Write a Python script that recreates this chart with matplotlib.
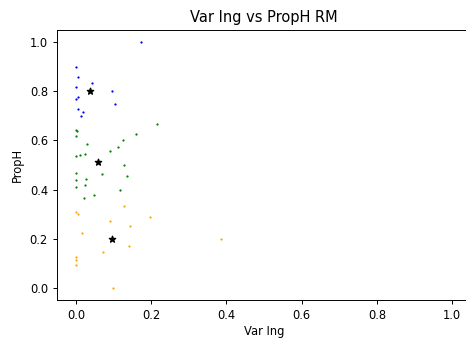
import matplotlib
matplotlib.use("Agg")
import matplotlib.pyplot as plt

blue_x = [0.172, 0.0, 0.005, 0.044, 0.0, 0.096, 0.005, 0.0, 0.103, 0.005, 0.020, 0.015]
blue_y = [1.0, 0.90, 0.857, 0.834, 0.818, 0.80, 0.778, 0.770, 0.750, 0.728, 0.716, 0.701]

green_x = [0.217, 0.0, 0.003, 0.160, 0.0, 0.126, 0.029, 0.112, 0.092, 0.025, 0.011, 0.0,
           0.128, 0.0, 0.070, 0.137, 0.027, 0.0, 0.024, 0.0, 0.117, 0.049, 0.023]
green_y = [0.667, 0.642, 0.637, 0.626, 0.618, 0.602, 0.584, 0.572, 0.557, 0.546, 0.540, 0.535,
           0.501, 0.468, 0.463, 0.456, 0.445, 0.438, 0.418, 0.410, 0.400, 0.376, 0.365]

orange_x = [0.127, 0.001, 0.005, 0.198, 0.091, 0.144, 0.017, 0.387, 0.140, 0.073, 0.0, 0.0, 0.0, 0.099]
orange_y = [0.335, 0.310, 0.302, 0.287, 0.273, 0.252, 0.223, 0.20, 0.169, 0.144, 0.127, 0.113, 0.093, 0.0]

centroid_x = [0.038, 0.058, 0.095]
centroid_y = [0.80, 0.514, 0.20]

fig = plt.figure(figsize=(4.66, 3.38), dpi=100)
ax = fig.add_axes([57/466, 1-300/338, (471-57)/466, (300-30)/338])

ax.scatter(blue_x, blue_y, s=2.6, color='blue', linewidths=0)
ax.scatter(green_x, green_y, s=2.6, color='green', linewidths=0)
ax.scatter(orange_x, orange_y, s=2.6, color='orange', linewidths=0)
ax.scatter(centroid_x, centroid_y, s=22, marker='*', color='black')

ax.set_xlim(-0.05, 1.05)
ax.set_ylim(-0.05, 1.05)
ax.set_xticks([0.0, 0.2, 0.4, 0.6, 0.8, 1.0])
ax.set_yticks([0.0, 0.2, 0.4, 0.6, 0.8, 1.0])
ax.tick_params(labelsize=8.3, length=3, width=0.7)
for sp in ax.spines.values():
    sp.set_linewidth(0.7)
ax.set_title("Var Ing vs PropH RM", fontsize=10.5)
ax.set_xlabel("Var Ing", fontsize=8.3, labelpad=2)
ax.set_ylabel("PropH", fontsize=8.3)

fig.savefig("out.png", dpi=100)
